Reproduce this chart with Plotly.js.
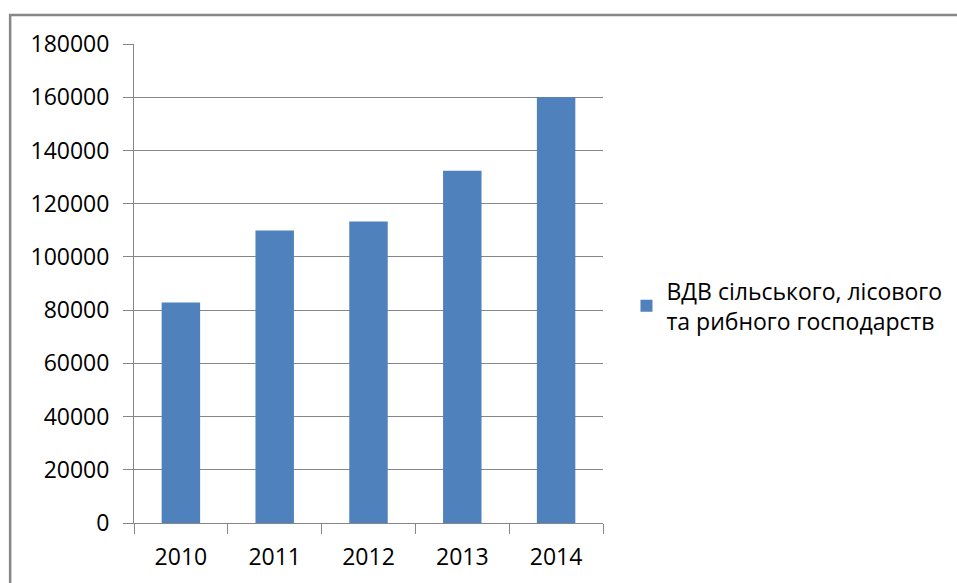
<!DOCTYPE html>
<html>
<head>
<meta charset="utf-8">
<script src="https://cdn.plot.ly/plotly-3.0.1.min.js"></script>
<style>
  html, body { margin: 0; padding: 0; background: #fff; overflow: hidden; }
  #chart { width: 957px; height: 583px; }
</style>
</head>
<body>
<div id="chart"></div>
<script>
const years = ['2010', '2011', '2012', '2013', '2014'];
const values = [82900, 109900, 113300, 132400, 160000];
const seriesName = 'ВДВ сільського, лісового<br>та рибного господарств';
const yTicks = [0, 20000, 40000, 60000, 80000, 100000, 120000, 140000, 160000, 180000];

const W = 957, H = 583;
const L = 134, R = 603.5, T = 44, B = 523.3;
const pw = R - L, ph = B - T;
const grey = '#868686';
const font = { family: '"Open Sans", "Noto Sans", sans-serif', size: 23, color: '#000' };

const trace = {
  type: 'bar',
  x: years,
  y: values,
  name: seriesName,
  marker: { color: '#4F81BD' },
  showlegend: true
};

const layout = {
  width: W, height: H,
  margin: { l: L, r: W - R, t: T, b: H - B, pad: 0, autoexpand: false },
  paper_bgcolor: '#fff',
  plot_bgcolor: '#fff',
  font: font,
  bargap: 0.59,
  showlegend: true,
  xaxis: {
    type: 'category',
    tickson: 'boundaries',
    ticks: 'outside', ticklen: 10, tickcolor: grey, tickwidth: 1,
    showline: true, linecolor: grey, linewidth: 1,
    showgrid: false,
    ticklabelstandoff: 13,
    tickfont: font
  },
  yaxis: {
    range: [0, 180000],
    tickvals: yTicks,
    ticktext: yTicks.map(String),
    ticks: 'outside', ticklen: 10, tickcolor: grey, tickwidth: 1,
    showline: true, linecolor: grey, linewidth: 1,
    showgrid: true, gridcolor: grey, gridwidth: 1,
    zeroline: false,
    ticklabelstandoff: 9,
    tickfont: font
  },
  legend: {
    x: (627 - L) / pw, xanchor: 'left',
    y: (B - 306) / ph, yanchor: 'middle',
    font: font,
    bgcolor: 'rgba(0,0,0,0)',
    itemwidth: 30
  },
  shapes: [{
    type: 'rect', xref: 'paper', yref: 'paper',
    x0: (10 - L) / pw, x1: (1200 - L) / pw,
    y0: (B - 800) / ph, y1: (B - 15) / ph,
    line: { color: grey, width: 2.5 },
    fillcolor: 'rgba(0,0,0,0)'
  }]
};

Plotly.newPlot('chart', [trace], layout, { displayModeBar: false, staticPlot: true });
</script>
</body>
</html>
